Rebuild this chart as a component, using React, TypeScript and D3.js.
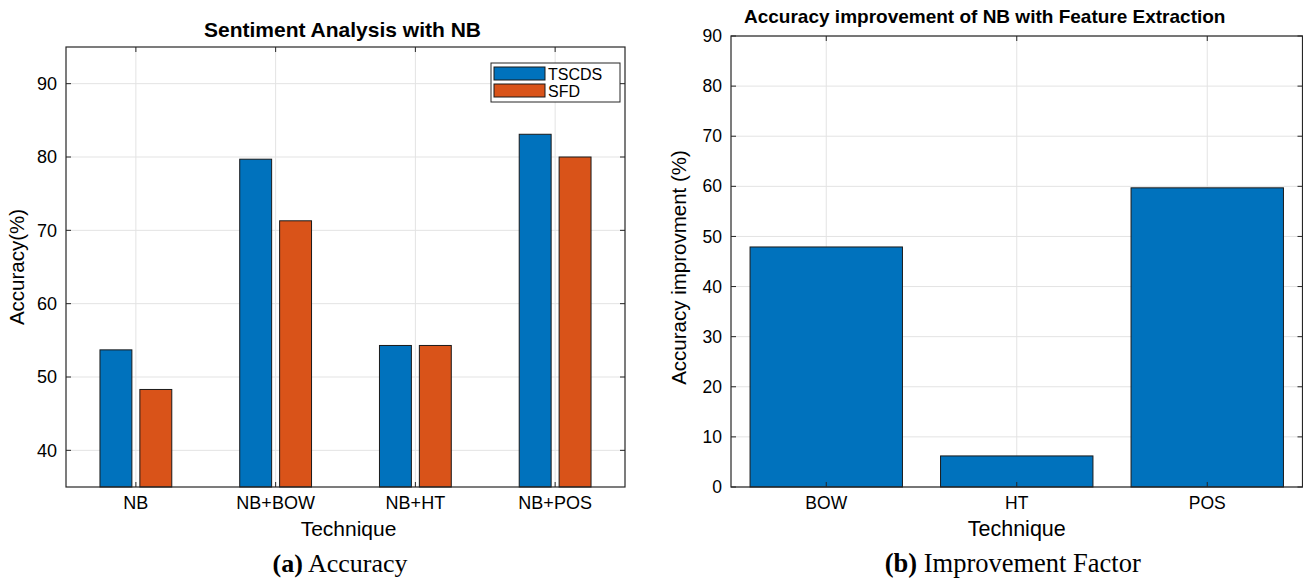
import React from "react";
import * as d3 from "d3";

const categoriesA = ["NB", "NB+BOW", "NB+HT", "NB+POS"];
const seriesA = ["TSCDS", "SFD"];
const tscdsValues = [53.7, 79.7, 54.3, 83.1];
const sfdValues = [48.3, 71.3, 54.3, 80.0];
const yTicksA = [40, 50, 60, 70, 80, 90];

const categoriesB = ["BOW", "HT", "POS"];
const improvementValues = [47.9, 6.2, 59.7];
const yTicksB = [0, 10, 20, 30, 40, 50, 60, 70, 80, 90];

const BLUE = "#0072BD";
const ORANGE = "#D95319";
const AXIS = "#262626";
const GRID = "#e3e3e3";
const SANS = "'Liberation Sans', Arial, Helvetica, sans-serif";
const SERIF = "'Liberation Serif', 'Times New Roman', serif";
const TICK = 5;

function Frame({ x0, x1, y0, y1, xs, yScale, yTicks }: any) {
  return (
    <g>
      {xs.map((x: number, i: number) => (
        <line key={"gx" + i} x1={x} x2={x} y1={y0} y2={y1} stroke={GRID} strokeWidth={1} />
      ))}
      {yTicks.map((t: number) => (
        <line key={"gy" + t} x1={x0} x2={x1} y1={yScale(t)} y2={yScale(t)} stroke={GRID} strokeWidth={1} />
      ))}
    </g>
  );
}

function Axes({ x0, x1, y0, y1, xs, xLabels, yScale, yTicks, fs }: any) {
  return (
    <g>
      <rect x={x0} y={y0} width={x1 - x0} height={y1 - y0} fill="none" stroke={AXIS} strokeWidth={1.2} />
      {xs.map((x: number, i: number) => (
        <g key={"xt" + i}>
          <line x1={x} x2={x} y1={y1} y2={y1 - TICK} stroke={AXIS} />
          <line x1={x} x2={x} y1={y0} y2={y0 + TICK} stroke={AXIS} />
          <text x={x} y={y1 + 22} textAnchor="middle" fontSize={fs} fontFamily={SANS} fill="#000">
            {xLabels[i]}
          </text>
        </g>
      ))}
      {yTicks.map((t: number) => (
        <g key={"yt" + t}>
          <line x1={x0} x2={x0 + TICK} y1={yScale(t)} y2={yScale(t)} stroke={AXIS} />
          <line x1={x1} x2={x1 - TICK} y1={yScale(t)} y2={yScale(t)} stroke={AXIS} />
          <text x={x0 - 9} y={yScale(t)} dy="0.35em" textAnchor="end" fontSize={fs} fontFamily={SANS} fill="#000">
            {t}
          </text>
        </g>
      ))}
    </g>
  );
}

function ChartA() {
  const x0 = 66, x1 = 625, y0 = 47, y1 = 487;
  const x = d3.scaleBand<string>().domain(categoriesA).range([x0, x1]).padding(0);
  const groupW = x.bandwidth() * 0.571;
  const xSub = d3.scaleBand<string>().domain(seriesA).range([-groupW / 2, groupW / 2]).paddingInner(0.2).paddingOuter(0.1);
  const y = d3.scaleLinear().domain([35, 95]).range([y1, y0]);
  const centers = categoriesA.map((c) => (x(c) as number) + x.bandwidth() / 2);
  const seriesData = [tscdsValues, sfdValues];
  const colors = [BLUE, ORANGE];
  return (
    <g>
      <Frame x0={x0} x1={x1} y0={y0} y1={y1} xs={centers} yScale={y} yTicks={yTicksA} />
      {seriesA.map((s, si) =>
        categoriesA.map((c, ci) => {
          const v = seriesData[si][ci];
          const bx = centers[ci] + (xSub(s) as number);
          return (
            <rect key={s + c} x={bx} y={y(v)} width={xSub.bandwidth()} height={y1 - y(v)} fill={colors[si]} stroke="#1a1a1a" strokeWidth={1} />
          );
        })
      )}
      <Axes x0={x0} x1={x1} y0={y0} y1={y1} xs={centers} xLabels={categoriesA} yScale={y} yTicks={yTicksA} fs={18} />
      <text x={(x0 + x1) / 2 - 3} y={37} textAnchor="middle" fontSize={21} fontWeight="bold" fontFamily={SANS} fill="#000">
        Sentiment Analysis with NB
      </text>
      <text x={(x0 + x1) / 2 + 3} y={536} textAnchor="middle" fontSize={21} fontFamily={SANS} fill="#000">
        Technique
      </text>
      <text transform={`translate(24,${(y0 + y1) / 2}) rotate(-90)`} textAnchor="middle" fontSize={20.5} fontFamily={SANS} fill="#000">
        Accuracy(%)
      </text>
      <g>
        <rect x={491} y={63} width={129} height={39} fill="#fff" stroke={AXIS} strokeWidth={1} />
        {seriesA.map((s, i) => (
          <g key={"lg" + s}>
            <rect x={494} y={67 + i * 17} width={51} height={13} fill={colors[i]} stroke="#1a1a1a" strokeWidth={1} />
            <text x={548} y={74 + i * 17} dy="0.35em" fontSize={16} fontFamily={SANS} fill="#000">
              {s}
            </text>
          </g>
        ))}
      </g>
      <text x={340} y={572} textAnchor="middle" fontSize={26} fontFamily={SERIF} fill="#000">
        <tspan fontWeight="bold">(a)</tspan> Accuracy
      </text>
    </g>
  );
}

function ChartB() {
  const x0 = 731, x1 = 1302.5, y0 = 36, y1 = 487;
  const x = d3.scaleBand<string>().domain(categoriesB).range([x0, x1]).paddingInner(0.2).paddingOuter(0.1);
  const y = d3.scaleLinear().domain([0, 90]).range([y1, y0]);
  const centers = categoriesB.map((c) => (x(c) as number) + x.bandwidth() / 2);
  return (
    <g>
      <Frame x0={x0} x1={x1} y0={y0} y1={y1} xs={centers} yScale={y} yTicks={yTicksB} />
      {categoriesB.map((c, i) => (
        <rect key={c} x={x(c)} y={y(improvementValues[i])} width={x.bandwidth()} height={y1 - y(improvementValues[i])} fill={BLUE} stroke="#1a1a1a" strokeWidth={1} />
      ))}
      <Axes x0={x0} x1={x1} y0={y0} y1={y1} xs={centers} xLabels={categoriesB} yScale={y} yTicks={yTicksB} fs={17.5} />
      <text x={(x0 + x1) / 2 - 32} y={23} textAnchor="middle" fontSize={19} fontWeight="bold" fontFamily={SANS} fill="#000">
        Accuracy improvement of NB with Feature Extraction
      </text>
      <text x={centers[1]} y={536} textAnchor="middle" fontSize={21.5} fontFamily={SANS} fill="#000">
        Technique
      </text>
      <text transform={`translate(686,${(y0 + y1) / 2 + 6}) rotate(-90)`} textAnchor="middle" fontSize={20.5} fontFamily={SANS} fill="#000">
        Accuracy improvment (%)
      </text>
      <text x={centers[1] - 4} y={572} textAnchor="middle" fontSize={26.5} fontFamily={SERIF} fill="#000">
        <tspan fontWeight="bold">(b)</tspan> Improvement Factor
      </text>
    </g>
  );
}

export default function App() {
  return (
    <svg width={1303} height={579} style={{ position: "absolute", left: 0, top: 0, background: "#fff" }}>
      <rect x={0} y={0} width={1303} height={579} fill="#fff" />
      <ChartA />
      <ChartB />
    </svg>
  );
}
